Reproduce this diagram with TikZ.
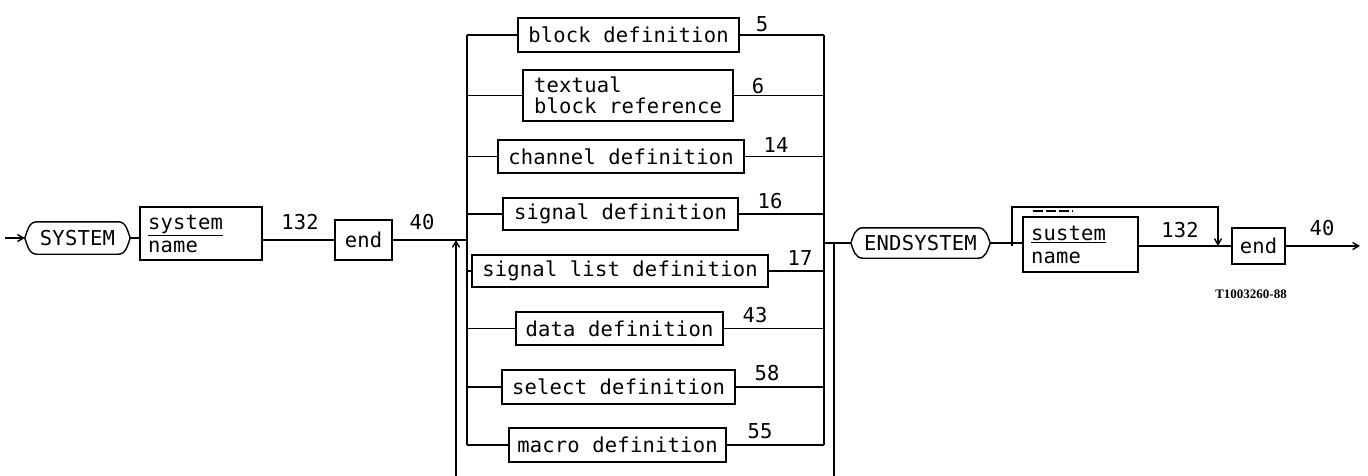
\documentclass[tikz,border=0pt]{standalone}
\usepackage{fontspec}
\usetikzlibrary{arrows.meta}
\newfontfamily\plot{DejaVu Sans Mono}[LetterSpace=1]
\newfontfamily\tnr{Liberation Serif}
\begin{document}
\begin{tikzpicture}[x=1pt,y=-1pt,
  wire/.style={line width=1.4pt},
  arr/.style={line width=1.4pt,-{Straight Barb[length=6pt,width=7pt]}},
  box/.style={draw,line width=1.4pt,inner sep=0pt,font=\fontsize{20.5}{21}\plot},
  term/.style={inner sep=0pt,font=\fontsize{20.5}{21}\plot},
  lbl/.style={inner sep=0pt,font=\fontsize{20.5}{21}\plot},
  fig/.style={inner sep=0pt,font=\fontsize{13}{14}\tnr\bfseries}]
\useasboundingbox (0,0) rectangle (1368,476);
% left part
\node[term,minimum width=105pt,minimum height=32pt] (sys) at (77.5,238) {SYSTEM};
\draw[wire] (sys.west) to[out=70,in=180] ([xshift=12pt]sys.north west) -- ([xshift=-12pt]sys.north east) to[out=0,in=110] (sys.east) to[out=-110,in=0] ([xshift=-12pt]sys.south east) -- ([xshift=12pt]sys.south west) to[out=180,in=-70] (sys.west);
\coordinate (start) at (5,238);
\draw[arr] (start) -- (sys.west);
\node[box,minimum width=122pt,minimum height=53pt,align=left,text width=106pt] (sn) at (201,233.5) {\underline{system}\\[2pt]name};
\node[box,minimum width=57pt,minimum height=40pt] (e1) at (363.5,240) {end};
\draw[wire] (sys.east) -- (sys.east -| sn.west);
\draw[wire] (sn.east |- e1.west) -- (e1.west);
\node[lbl] (l132a) at (300,222) {132};
\node[lbl] (l40a) at (422,222) {40};
% buses
\coordinate (lbus) at (467,0);
\coordinate (rbus) at (824,0);
\coordinate (L) at (467,240);
\draw[wire] (e1.east) -- (L);
\coordinate (La) at (456,240);
\coordinate (Lb) at (456,476);
\draw[arr] (Lb) -- (La);
% alternatives
\node[box,minimum width=221pt,minimum height=34pt] (b1) at (628.5,35) {block definition};
\node[box,minimum width=210pt,minimum height=51pt,align=left] (b2) at (628,95.5) {textual\\block reference};
\node[box,minimum width=246pt,minimum height=33pt] (b3) at (621,156.5) {channel definition};
\node[box,minimum width=235pt,minimum height=32pt] (b4) at (620.5,214) {signal definition};
\node[box,minimum width=296pt,minimum height=32pt] (b5) at (620,271) {signal list definition};
\node[box,minimum width=207pt,minimum height=33pt] (b6) at (619.5,328.5) {data definition};
\node[box,minimum width=233pt,minimum height=34pt] (b7) at (618.5,387) {select definition};
\node[box,minimum width=217pt,minimum height=34pt] (b8) at (617.5,445) {macro definition};
\foreach \b in {b1,b2,b3,b4,b5,b6,b7,b8}{
  \draw[wire] (lbus |- \b.west) -- (\b.west);
  \draw[wire] (\b.east) -- (rbus |- \b.east);
}
\draw[wire] (lbus |- b1.west) -- (lbus |- b8.west);
\draw[wire] (rbus |- b1.east) -- (rbus |- b8.east);
\node[lbl] (n5) at (762,24) {5};
\node[lbl] (n6) at (758,86) {6};
\node[lbl] (n14) at (776,145) {14};
\node[lbl] (n16) at (770,201) {16};
\node[lbl] (n17) at (800,258) {17};
\node[lbl] (n43) at (755,315) {43};
\node[lbl] (n58) at (767,373) {58};
\node[lbl] (n55) at (760,431) {55};
% right part
\coordinate (R) at (824,243);
\coordinate (R2) at (834,243);
\coordinate (R2b) at (834,476);
\draw[wire] (R2) -- (R2b);
\node[term,minimum width=139pt,minimum height=30pt] (es) at (920.5,243) {ENDSYSTEM};
\draw[wire] (es.west) to[out=70,in=180] ([xshift=12pt]es.north west) -- ([xshift=-12pt]es.north east) to[out=0,in=110] (es.east) to[out=-110,in=0] ([xshift=-12pt]es.south east) -- ([xshift=12pt]es.south west) to[out=180,in=-70] (es.west);
\draw[wire] (R) -- (es.west);
\node[box,minimum width=115pt,minimum height=55pt,align=left,text width=99pt] (sn2) at (1080.5,244.5) {\underline{sustem}\\[2pt]name};
\draw[wire] (es.east) -- (es.east -| sn2.west);
\node[box,minimum width=53pt,minimum height=36pt] (e2) at (1258.5,246) {end};
\draw[wire] (sn2.east |- e2.west) -- (e2.west);
\coordinate (bp1) at (1012,246);
\coordinate (bp2) at (1218,246);
\draw[arr] (bp1) -- ++(0,-39) -| (bp2);
\draw[line width=1.4pt,dash pattern=on 10pt off 3pt] (1033,211) -- (1073,211);
\coordinate (exit) at (1360,246);
\draw[arr] (e2.east) -- (exit);
\node[lbl] (l132b) at (1180,230) {132};
\node[lbl] (l40b) at (1322,228) {40};
\node[fig] (fig) at (1251,294) {T1003260-88};
\end{tikzpicture}
\end{document}
